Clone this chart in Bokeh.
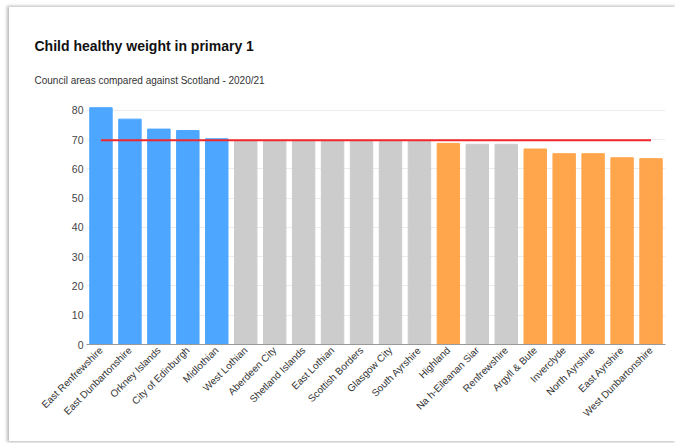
from math import pi
from bokeh.plotting import figure
from bokeh.models import FactorRange, Range1d, Title, ColumnDataSource
from bokeh.embed import file_html
from bokeh.resources import INLINE

# ---- data ----
areas = ["East Renfrewshire", "East Dunbartonshire", "Orkney Islands", "City of Edinburgh",
         "Midlothian", "West Lothian", "Aberdeen City", "Shetland Islands", "East Lothian",
         "Scottish Borders", "Glasgow City", "South Ayrshire", "Highland", "Na h-Eileanan Siar",
         "Renfrewshire", "Argyll & Bute", "Inverclyde", "North Ayrshire", "East Ayrshire",
         "West Dunbartonshire"]
values = [80.9, 77.0, 73.6, 73.1, 70.3, 69.6, 69.6, 69.5, 69.5, 69.5, 69.4, 69.4,
          68.7, 68.4, 68.4, 66.8, 65.2, 65.2, 63.8, 63.5]
status = ["above"] * 5 + ["similar"] * 7 + ["below"] + ["similar"] * 2 + ["below"] * 5
scotland = 69.8
y_ticks = [0, 10, 20, 30, 40, 50, 60, 70, 80]
title_text = "Child healthy weight in primary 1"
subtitle_text = "Council areas compared against Scotland - 2020/21"

palette = {"above": "#4da6ff", "similar": "#cccccc", "below": "#ffa64d"}
colors = [palette[s] for s in status]

src = ColumnDataSource(dict(area=areas, value=values, color=colors))

p = figure(x_range=FactorRange(*areas, range_padding=0), y_range=Range1d(0, 82),
           width=666, height=434, output_backend="svg", toolbar_location=None,
           min_border_left=77, min_border_right=10, min_border_top=97, min_border_bottom=97,
           background_fill_color="white", border_fill_color="white")
p.margin = (7, 0, 0, 9)
p.styles = {"box-shadow": "-1px 0px 3px 1px rgba(0,0,0,0.28)"}
p.outline_line_color = None

p.vbar(x="area", top="value", width=0.775, color="color", source=src)
p.line(x=[areas[0], areas[-1]], y=[scotland, scotland], line_color="#f0282d", line_width=2)

# titles: main title outermost, subtitle closest to the frame
p.title.text = title_text
p.title.align = "left"
p.title.offset = -52
p.title.standoff = 0
p.title.text_font = "Liberation Sans"
p.title.text_font_size = "14px"
p.title.text_font_style = "bold"
p.title.text_color = "#111111"
sub = Title(text=subtitle_text, align="left", offset=-52, standoff=38,
            text_font="Liberation Sans", text_font_size="10px",
            text_font_style="normal", text_color="#333333")
p.add_layout(sub, "above")

# axes
p.xgrid.grid_line_color = None
p.ygrid.grid_line_color = "#ececec"
p.yaxis.ticker = y_ticks
p.yaxis.axis_line_color = None
p.yaxis.major_tick_line_color = None
p.yaxis.minor_tick_line_color = None
p.yaxis.major_tick_out = 0
p.yaxis.major_label_standoff = 3
p.yaxis.major_label_text_font = "Liberation Sans"
p.yaxis.major_label_text_font_size = "10.5px"
p.yaxis.major_label_text_color = "#444444"

p.xaxis.axis_line_color = "#999999"
p.xaxis.major_tick_line_color = None
p.xaxis.minor_tick_line_color = None
p.xaxis.major_tick_out = 0
p.xaxis.major_label_standoff = 4
p.xaxis.major_label_orientation = pi / 4
p.xaxis.major_label_text_font = "Liberation Sans"
p.xaxis.major_label_text_font_size = "10px"
p.xaxis.major_label_text_color = "#333333"

open("out.html", "w").write(file_html(p, INLINE))
